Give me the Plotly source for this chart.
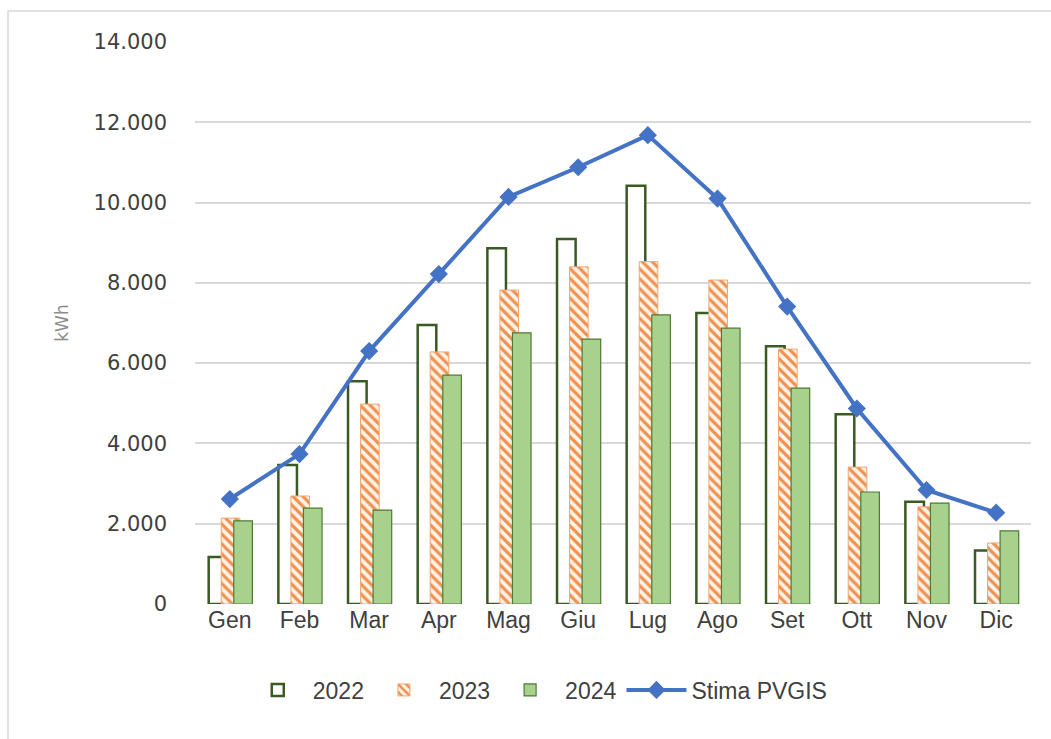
import plotly.graph_objects as go

# Monthly production (kWh) and PVGIS estimate
months = ["Gen", "Feb", "Mar", "Apr", "Mag", "Giu", "Lug", "Ago", "Set", "Ott", "Nov", "Dic"]
prod_2022 = [1170, 3460, 5550, 6950, 8860, 9090, 10420, 7250, 6420, 4725, 2550, 1330]
prod_2023 = [2140, 2690, 4980, 6280, 7820, 8400, 8530, 8070, 6350, 3410, 2420, 1520]
prod_2024 = [2070, 2390, 2340, 5700, 6755, 6600, 7200, 6870, 5380, 2790, 2515, 1820]
pvgis = [2615, 3735, 6300, 8220, 10140, 10880, 11680, 10100, 7410, 4870, 2840, 2275]

y_ticks = [0, 2000, 4000, 6000, 8000, 10000, 12000, 14000]
y_tick_text = ["0", "2.000", "4.000", "6.000", "8.000", "10.000", "12.000", "14.000"]

BAR_W = 0.267
STEP = 0.18

fig = go.Figure()

fig.add_trace(go.Bar(
    x=months, y=prod_2022, name="2022",
    offset=-BAR_W / 2 - STEP + 0.01, width=BAR_W,
    marker=dict(color="#FFFFFF", line=dict(color="#3A5A24", width=2.5)),
))
fig.add_trace(go.Bar(
    x=months, y=prod_2023, name="2023",
    offset=-BAR_W / 2 + 0.01, width=BAR_W,
    marker=dict(
        color="#FFF3E8",
        line=dict(color="#F2A66E", width=1),
        pattern=dict(shape="\\", fgcolor="#EE9150", bgcolor="#FFF3E8",
                     size=7, solidity=0.45, fillmode="replace"),
    ),
))
fig.add_trace(go.Bar(
    x=months, y=prod_2024, name="2024",
    offset=-BAR_W / 2 + STEP + 0.01, width=BAR_W,
    marker=dict(color="#A9D18E", line=dict(color="#4E7A33", width=1.2)),
))
fig.add_trace(go.Scatter(
    x=months, y=pvgis, name="Stima PVGIS", mode="lines+markers",
    line=dict(color="#4472C4", width=4),
    marker=dict(symbol="diamond", size=14, color="#4472C4"),
))

# thin frame around the chart
fig.add_shape(type="line", xref="paper", yref="paper",
              x0=(8 - 195) / 836, x1=(1051 - 195) / 836,
              y0=(604 - 11) / 562, y1=(604 - 11) / 562,
              line=dict(color="#D9D9D9", width=1.5))
fig.add_shape(type="line", xref="paper", yref="paper",
              x0=(8 - 195) / 836, x1=(8 - 195) / 836,
              y0=(604 - 11) / 562, y1=(604 - 739) / 562,
              line=dict(color="#D9D9D9", width=1.5))

fig.update_layout(
    width=1051, height=739,
    margin=dict(l=195, r=20, t=42, b=135),
    paper_bgcolor="#FFFFFF", plot_bgcolor="#FFFFFF",
    barmode="overlay",
    showlegend=True,
    legend=dict(orientation="h", x=0.41, xanchor="center", y=-0.153, yanchor="middle",
                font=dict(family="Liberation Sans Narrow, Liberation Sans, Arial", size=23, color="#404040"),
                itemwidth=60, traceorder="normal"),
    xaxis=dict(
        type="category", range=[-0.5, 11.5],
        showgrid=False, showline=False, zeroline=False, ticks="",
        tickfont=dict(family="Liberation Sans Narrow, Liberation Sans, Arial", size=23, color="#404040"),
    ),
    yaxis=dict(
        range=[0, 14000], tickvals=y_ticks, ticktext=y_tick_text,
        showgrid=True, gridcolor="#D9D9D9", gridwidth=1.5,
        zeroline=False, showline=False, ticks="",
        tickfont=dict(family="DejaVu Sans", size=21, color="#404040"),
        ticklabelstandoff=27,
        title=dict(text="kWh", font=dict(family="DejaVu Sans", size=17, color="#8C8C8C"), standoff=20),
    ),
)

fig.write_html("out.html")
